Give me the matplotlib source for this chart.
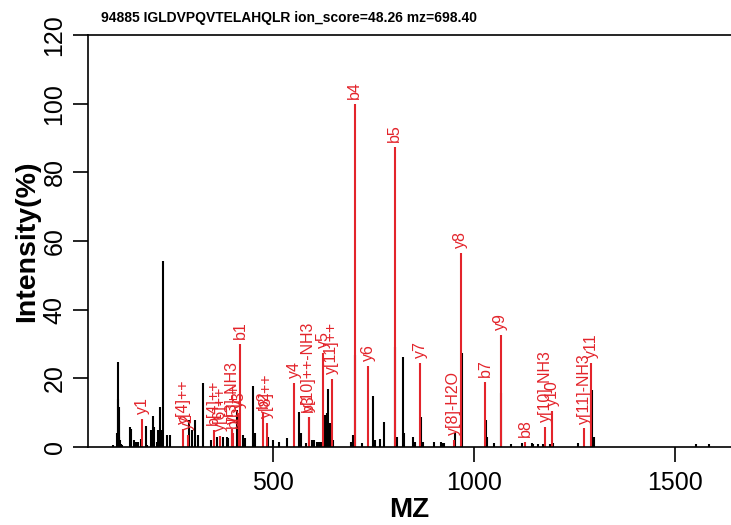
import numpy as np
import matplotlib.pyplot as plt

plt.rcParams['font.family'] = ['Liberation Sans', 'DejaVu Sans']

title = "94885 IGLDVPQVTELAHQLR ion_score=48.26 mz=698.40"
y_ticks = [0, 20, 40, 60, 80, 100, 120]
x_ticks = [500, 1000, 1500]

# unmatched peaks (m/z, relative intensity %)
other_mz = [101.2, 113.0, 114.0, 115.0, 116.0, 117.0, 118.0, 119.0, 121.0, 123.6,
            144.3, 147.5, 154.2, 158.5, 163.4, 170.9, 183.3, 187.3, 195.8, 200.7,
            203.2, 210.7, 214.7, 218.9, 222.1, 227.1, 235.6, 244.5, 290.5, 297.8,
            306.0, 314.2, 326.6, 345.0, 360.0, 376.4, 384.8, 388.8, 397.3, 409.7,
            413.7, 426.1, 430.3, 451.0, 455.2, 488.8, 500.0, 513.7, 534.0, 564.7,
            568.9, 582.0, 597.8, 602.7, 608.7, 615.2, 619.4, 629.4, 633.6, 637.6,
            641.8, 650.0, 693.3, 698.3, 705.0, 720.6, 749.5, 753.7, 766.2, 776.9,
            804.0, 807.7, 822.6, 825.9, 849.0, 853.2, 868.5, 873.9, 900.5, 917.2,
            922.1, 925.4, 952.0, 969.0, 1029.0, 1033.0, 1049.8, 1068.0, 1091.3, 1118.7,
            1143.5, 1147.5, 1160.0, 1172.4, 1189.0, 1197.0, 1258.0, 1293.5, 1298.5, 1551.5,
            1584.6]
other_int = [0.6, 4.2, 14.0, 24.7, 11.7, 8.0, 3.0, 2.0, 1.0, 0.6,
             5.9, 5.2, 2.0, 1.5, 1.5, 2.2, 6.1, 0.6, 5.0, 9.0,
             5.9, 1.5, 5.0, 11.7, 5.0, 54.3, 3.5, 3.5, 7.9, 5.0,
             8.0, 3.5, 18.7, 2.0, 3.0, 3.0, 2.8, 2.5, 5.0, 10.8,
             6.0, 3.4, 2.5, 17.8, 4.0, 3.0, 2.0, 1.5, 2.6, 10.3,
             4.0, 1.2, 1.9, 2.0, 1.5, 1.5, 1.5, 9.3, 9.8, 16.8,
             7.0, 2.0, 1.5, 3.4, 26.8, 1.2, 15.0, 2.0, 2.4, 7.3,
             29.0, 3.0, 26.1, 4.0, 3.0, 1.5, 8.8, 1.5, 1.4, 1.5,
             1.2, 1.2, 4.0, 27.3, 7.9, 3.0, 1.3, 15.6, 0.8, 1.2,
             1.3, 1.0, 1.0, 1.0, 1.0, 1.1, 1.3, 16.6, 3.0, 0.9,
             0.9]

# matched fragment ions
ion_mz = [175.1, 277.2, 288.2, 352.2, 369.2, 399.2, 401.7, 416.3, 418.3, 475.3,
          484.3, 553.3, 588.4, 589.3, 624.4, 646.4, 703.4, 737.4, 802.5, 866.5,
          949.5, 967.5, 1027.6, 1066.6, 1126.7, 1177.6, 1194.7, 1274.7, 1291.7]
ion_int = [8.2, 5.2, 3.5, 5.0, 3.2, 5.2, 4.0, 10.0, 30.0, 10.0,
           7.0, 18.7, 8.8, 8.8, 27.5, 19.9, 100.0, 23.7, 87.3, 24.4,
           2.0, 56.4, 19.0, 32.6, 1.5, 5.9, 10.6, 5.4, 24.4]
ion_lab = ['y1', 'y[4]++', 'y2', 'b[4]++', 'y[6]++', 'y[3]-NH3', 'b[5]++', 'y3', 'b1', 'b2',
           'y[8]++', 'y4', 'b3', 'y[10]++-NH3', 'y5', 'y[11]++', 'b4', 'y6', 'b5', 'y7',
           'y[8]-H2O', 'y8', 'b7', 'y9', 'b8', 'y[10]-NH3', 'y10', 'y[11]-NH3', 'y11']

red = '#e3242b'

fig = plt.figure(figsize=(7.31, 5.25), dpi=100)
ax = fig.add_axes([88 / 731, 78 / 525, 1 - 88 / 731, 412 / 525])

ax.vlines(other_mz, 0, other_int, color='black', lw=1.5)
ax.vlines(ion_mz, 0, ion_int, color=red, lw=1.5)
for mz, it, lab in zip(ion_mz, ion_int, ion_lab):
    ax.annotate(lab, (mz, it), xytext=(0, 3.5), textcoords='offset points',
                rotation=90, ha='center', va='bottom', color=red, fontsize=11.5)

ax.set_xlim(39.8, 1639.3)
ax.set_ylim(0, 120)
ax.set_xticks(x_ticks)
ax.set_yticks(y_ticks)
ax.set_yticklabels([])
ax.spines['right'].set_visible(False)
for s in ['left', 'bottom', 'top']:
    ax.spines[s].set_linewidth(1.2)
ax.tick_params(axis='both', direction='out', length=11, width=1.2, labelsize=18)
ax.tick_params(axis='x', pad=6)

# R-style vertical y tick labels
for v in y_ticks:
    ax.text(-0.052, v, str(v), transform=ax.get_yaxis_transform(), rotation=90,
            ha='center', va='center', fontsize=18, clip_on=False)

ax.set_xlabel('MZ', fontsize=20, fontweight='bold', labelpad=2)
fig.text(27 / 731, 284 / 525, 'Intensity(%)', rotation=90, ha='center', va='center',
         fontsize=20.5, fontweight='bold')
fig.text(289 / 731, 1 - 18 / 525, title, ha='center', va='center',
         fontsize=10, fontweight='bold')

fig.savefig('out.png', dpi=100)
